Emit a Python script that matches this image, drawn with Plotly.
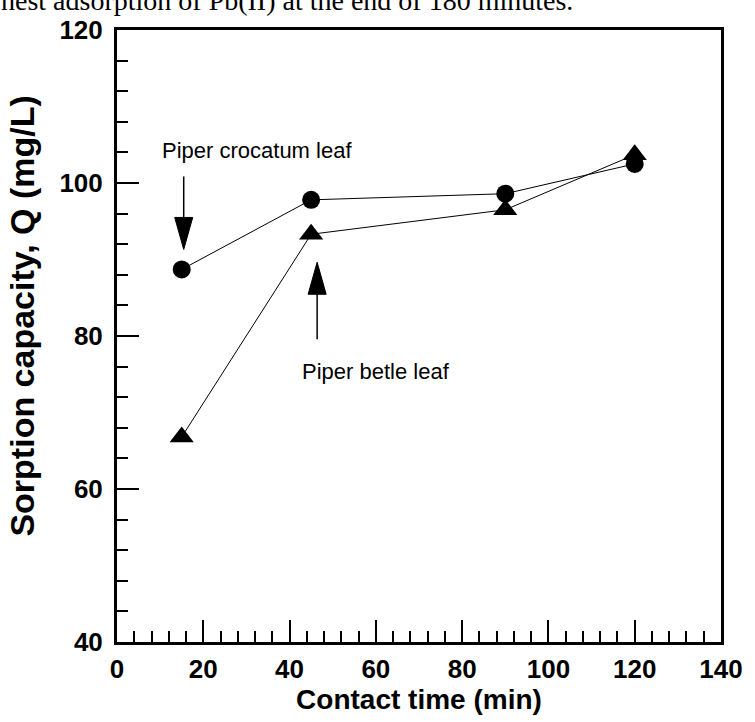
import plotly.graph_objects as go

# ---- data ----
contact_time = [15, 45, 90, 120]
crocatum_q = [88.7, 97.8, 98.6, 102.5]
betle_q = [66.8, 93.3, 96.5, 103.7]
series_names = ["Piper crocatum leaf", "Piper betle leaf"]
x_title = "Contact time (min)"
y_title = "Sorption capacity, Q (mg/L)"
caption = "hest adsorption of Pb(II) at the end of 180 minutes."

fig = go.Figure()
fig.add_trace(go.Scatter(
    x=contact_time, y=crocatum_q, mode="lines+markers", name=series_names[0],
    line=dict(color="black", width=1),
    marker=dict(symbol="circle", size=18, color="black"),
))
fig.add_trace(go.Scatter(
    x=contact_time, y=betle_q, mode="lines+markers", name=series_names[1],
    line=dict(color="black", width=1),
    marker=dict(symbol="triangle-up", size=21, color="black"),
))

# arrows (pixel-sized, anchored to data points)
shapes = [
    dict(type="line", xref="x", yref="y", xsizemode="pixel", ysizemode="pixel",
         xanchor=contact_time[0], yanchor=crocatum_q[0],
         x0=2, x1=2, y0=93, y1=50, line=dict(color="black", width=1.5)),
    dict(type="path", xref="x", yref="y", xsizemode="pixel", ysizemode="pixel",
         xanchor=contact_time[0], yanchor=crocatum_q[0],
         path="M -7,52 L 11,52 L 2,20 Z", fillcolor="black", line=dict(color="black", width=1)),
    dict(type="line", xref="x", yref="y", xsizemode="pixel", ysizemode="pixel",
         xanchor=contact_time[1], yanchor=betle_q[1],
         x0=6, x1=6, y0=-105, y1=-58, line=dict(color="black", width=1.5)),
    dict(type="path", xref="x", yref="y", xsizemode="pixel", ysizemode="pixel",
         xanchor=contact_time[1], yanchor=betle_q[1],
         path="M -3,-60 L 15,-60 L 6,-28 Z", fillcolor="black", line=dict(color="black", width=1)),
]

annotations = [
    dict(text=series_names[0], x=9.9, y=104.3, xref="x", yref="y", xanchor="left", yanchor="middle",
         showarrow=False, font=dict(family="Liberation Sans, Arial", size=22, color="black")),
    dict(text=series_names[1], x=42.4, y=75.35, xref="x", yref="y", xanchor="left", yanchor="middle",
         showarrow=False, font=dict(family="Liberation Sans, Arial", size=22, color="black")),
    dict(text=caption, x=-0.195, y=1.049, xref="paper", yref="paper", xanchor="left", yanchor="middle",
         showarrow=False, font=dict(family="Liberation Serif, Times New Roman", size=28, color="black")),
    dict(text=y_title, x=-0.157, y=0.532, xref="paper", yref="paper", xanchor="center", yanchor="middle",
         textangle=-90, showarrow=False,
         font=dict(family="Liberation Sans, Arial", size=34, color="black", weight="bold")),
]

tickfont = dict(family="Liberation Sans, Arial", size=26, color="black", weight="bold")

fig.update_layout(
    width=755, height=722,
    margin=dict(l=117, r=27, t=30, b=79),
    paper_bgcolor="white", plot_bgcolor="white",
    showlegend=False,
    shapes=shapes, annotations=annotations,
    xaxis=dict(
        range=[0, 140], tick0=0, dtick=20, ticks="inside", ticklen=22, tickwidth=1.5, tickcolor="black",
        minor=dict(dtick=4, ticks="inside", ticklen=11, tickwidth=1.5, tickcolor="black"),
        showline=True, linewidth=3, linecolor="black", mirror=True, showgrid=False, zeroline=False,
        tickfont=tickfont, ticklabelstandoff=2,
        title=dict(text=x_title, font=dict(family="Liberation Sans, Arial", size=28, color="black", weight="bold"), standoff=6),
    ),
    yaxis=dict(
        range=[40, 120], tick0=40, dtick=20, ticks="inside", ticklen=22, tickwidth=1.5, tickcolor="black",
        minor=dict(dtick=4, ticks="inside", ticklen=11, tickwidth=1.5, tickcolor="black"),
        showline=True, linewidth=3, linecolor="black", mirror=True, showgrid=False, zeroline=False,
        tickfont=tickfont, ticklabelstandoff=6,
    ),
)

fig.write_html("out.html")
